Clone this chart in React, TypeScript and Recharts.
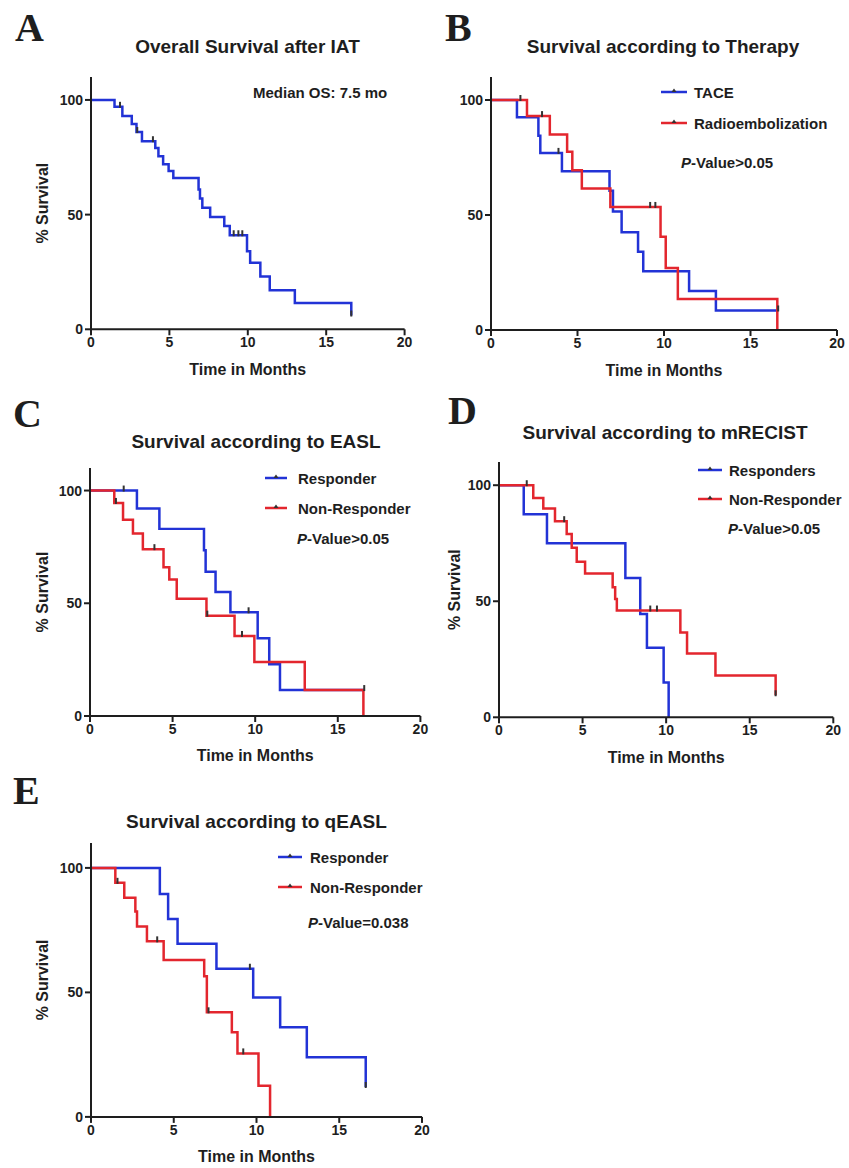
import React from "react";
import { LineChart, Line, XAxis, YAxis } from "recharts";

// A: overall survival after IAT
const osTimes = [0, 1.5, 2.0, 2.6, 2.9, 3.25, 4.1, 4.3, 4.6, 4.95, 5.25, 6.86, 6.95, 7.1, 7.6, 8.5, 8.85, 9.95, 10.15, 10.8, 11.4, 13.0, 16.6];
const osSurv = [100, 97, 93, 89.5, 86, 82, 79, 75.5, 72, 69, 66, 61, 57, 53, 49, 45, 41, 34, 29, 23, 17, 11.5, 6];
const osCensor = [1.85, 2.95, 3.95, 9.1, 9.4, 9.65, 16.6];

// B: TACE vs radioembolization
const taceTimes = [0, 1.5, 2.74, 2.85, 4.1, 6.85, 7.05, 7.55, 8.5, 8.8, 11.45, 13.0];
const taceSurv = [100, 92.5, 84.5, 77, 69, 60.5, 51.5, 42.5, 34, 25.5, 17, 8.5];
const taceCensor = [3.9, 16.6];
const radioTimes = [0, 2.08, 3.4, 4.4, 4.7, 5.25, 6.9, 9.8, 10.1, 10.8, 16.55];
const radioSurv = [100, 93, 85, 77.5, 69.5, 61.5, 53.5, 40.5, 27, 13.5, 0];
const radioCensor = [1.7, 2.95, 9.2, 9.5];

// C: EASL
const easlRespTimes = [0, 2.84, 4.2, 6.9, 7.0, 7.6, 8.5, 10.15, 10.85, 11.5];
const easlRespSurv = [100, 92, 83, 73.5, 64, 55, 46, 34.5, 23, 11.5];
const easlRespCensor = [2.04, 9.6, 16.6];
const easlNonTimes = [0, 1.47, 2.0, 2.6, 3.2, 4.45, 4.8, 5.25, 7.05, 8.75, 9.95, 13.0, 16.55];
const easlNonSurv = [100, 94.5, 87, 81, 74, 66, 60.5, 52, 44.5, 35.5, 24, 11.5, 0];
const easlNonCensor = [1.57, 3.9, 7.1, 9.2];

// D: mRECIST
const mrRespTimes = [0, 1.48, 2.87, 7.56, 8.45, 8.85, 9.85, 10.15];
const mrRespSurv = [100, 87.5, 75, 60, 44.5, 30, 15, 0];
const mrRespCensor: number[] = [];
const mrNonTimes = [0, 2.05, 2.65, 3.35, 4.05, 4.35, 4.65, 5.15, 6.8, 6.95, 7.05, 10.85, 11.25, 12.95, 16.55];
const mrNonSurv = [100, 94.5, 90, 84.5, 79, 73, 67, 62, 56, 51, 46, 36.5, 27.5, 18, 9.5];
const mrNonCensor = [1.66, 3.9, 9.05, 9.45, 16.55];

// E: qEASL
const qRespTimes = [0, 4.16, 4.66, 5.23, 7.58, 9.8, 11.43, 13.04, 16.6];
const qRespSurv = [100, 89.5, 79.5, 69.5, 59.5, 48, 36, 24, 12];
const qRespCensor = [9.6, 16.6];
const qNonTimes = [0, 1.47, 2.01, 2.68, 2.78, 3.38, 4.39, 6.84, 7.0, 8.51, 8.85, 10.12, 10.82];
const qNonSurv = [100, 94, 88, 82.5, 76.5, 70.5, 63, 56.5, 42, 34, 25.5, 12.5, 0];
const qNonCensor = [1.6, 4.0, 7.1, 9.2];

const xTicks = [0, 5, 10, 15, 20];
const yTicks = [0, 50, 100];

const BLUE = "#2233d6";
const RED = "#e3262e";
const INK = "#1e1e1e";
const SANS = "'Liberation Sans', Arial, sans-serif";

type Pt = { t: number; s: number; c: boolean };

// merge events and censored times into one step series
const km = (times: number[], surv: number[], censor: number[]): Pt[] => {
  const pts: Pt[] = times.map((t, i) => ({ t, s: surv[i], c: false }));
  censor.forEach((ct) => {
    let level = surv[0];
    times.forEach((t, i) => {
      if (t <= ct) level = surv[i];
    });
    pts.push({ t: ct, s: level, c: true });
  });
  return pts.sort((a, b) => a.t - b.t);
};

const censorDot = (props: any) => {
  const { cx, cy, payload, index } = props;
  if (!payload || !payload.c) return <g key={`n-${index}`} />;
  return (
    <line
      key={`c-${index}`}
      x1={cx}
      x2={cx}
      y1={cy - 5}
      y2={cy + 1}
      stroke="#333"
      strokeWidth={2}
    />
  );
};

type Box = { x0: number; x20: number; yTop: number; y0: number };
type Series = { name: string; data: Pt[]; color: string };

const YW = 60;
const XH = 52;
const RM = 16;
const TM = 4;

const KMPanel = ({
  box,
  series,
  yLabelOff,
}: {
  box: Box;
  series: Series[];
  yLabelOff?: number;
}) => {
  const tickStyle = { fontSize: 14, fontWeight: 700, fill: INK, fontFamily: SANS };
  const axisStyle = { stroke: INK, strokeWidth: 2 };
  return (
    <div style={{ position: "absolute", left: box.x0 - YW, top: box.yTop - TM }}>
      <LineChart
        width={box.x20 - box.x0 + YW + RM}
        height={box.y0 - box.yTop + TM + XH}
        margin={{ top: TM, right: RM, left: 0, bottom: 0 }}
      >
        <XAxis
          type="number"
          dataKey="t"
          domain={[0, 20]}
          ticks={xTicks}
          height={XH}
          axisLine={axisStyle}
          tickLine={axisStyle}
          tickSize={6}
          tick={tickStyle}
          label={(p: any) => {
            const { x, y, width } = p.viewBox;
            return (
              <text
                x={x + width / 2}
                y={y + 40}
                textAnchor="middle"
                dominantBaseline="central"
                fontSize={16}
                fontWeight={700}
                fontFamily={SANS}
                fill={INK}
              >
                Time in Months
              </text>
            );
          }}
        />
        <YAxis
          type="number"
          domain={[0, 110]}
          ticks={yTicks}
          width={YW}
          axisLine={axisStyle}
          tickLine={axisStyle}
          tickSize={6}
          tick={tickStyle}
          label={
            yLabelOff
              ? (p: any) => {
                  const { x, y, width, height } = p.viewBox;
                  const cx = x + width - yLabelOff;
                  const cy = y + height / 2;
                  return (
                    <text
                      x={cx}
                      y={cy}
                      transform={`rotate(-90 ${cx} ${cy})`}
                      textAnchor="middle"
                      dominantBaseline="central"
                      fontSize={16}
                      fontWeight={700}
                      fontFamily={SANS}
                      fill={INK}
                    >
                      % Survival
                    </text>
                  );
                }
              : undefined
          }
        />
        {series.map((s) => (
          <Line
            key={s.name}
            name={s.name}
            data={s.data}
            dataKey="s"
            type="stepAfter"
            stroke={s.color}
            strokeWidth={2.5}
            dot={censorDot}
            activeDot={false}
            isAnimationActive={false}
          />
        ))}
      </LineChart>
    </div>
  );
};

const Letter = ({ ch, left, top }: { ch: string; left: number; top: number }) => (
  <div
    style={{
      position: "absolute",
      left,
      top,
      fontFamily: "'Liberation Serif', 'Times New Roman', serif",
      fontWeight: 700,
      fontSize: 40,
      lineHeight: 1,
      color: INK,
    }}
  >
    {ch}
  </div>
);

const Title = ({ text, cx, cy }: { text: string; cx: number; cy: number }) => (
  <div
    style={{
      position: "absolute",
      left: cx,
      top: cy,
      transform: "translate(-50%, -50%)",
      whiteSpace: "nowrap",
      fontFamily: SANS,
      fontWeight: 700,
      fontSize: 19,
      color: INK,
    }}
  >
    {text}
  </div>
);

const Note = ({ left, cy, children }: { left: number; cy: number; children: React.ReactNode }) => (
  <div
    style={{
      position: "absolute",
      left,
      top: cy,
      transform: "translateY(-50%)",
      whiteSpace: "nowrap",
      fontFamily: SANS,
      fontWeight: 700,
      fontSize: 15,
      color: INK,
    }}
  >
    {children}
  </div>
);

const LegendRow = ({
  x,
  len,
  textX,
  cy,
  color,
  label,
}: {
  x: number;
  len: number;
  textX: number;
  cy: number;
  color: string;
  label: string;
}) => (
  <>
    <svg
      width={len}
      height={10}
      style={{ position: "absolute", left: x, top: cy - 5 }}
    >
      <line x1={0} x2={len} y1={5} y2={5} stroke={color} strokeWidth={2.5} />
      <path d={`M${len / 2 - 2.5} 5 L${len / 2} 1.5 L${len / 2 + 2.5} 5 Z`} fill="#333" />
    </svg>
    <Note left={textX} cy={cy}>
      {label}
    </Note>
  </>
);

const PValue = ({ left, cy, value }: { left: number; cy: number; value: string }) => (
  <Note left={left} cy={cy}>
    <i>P</i>-Value{value}
  </Note>
);

export default function App() {
  const aSeries = [{ name: "Overall", data: km(osTimes, osSurv, osCensor), color: BLUE }];
  const bSeries = [
    { name: "TACE", data: km(taceTimes, taceSurv, taceCensor), color: BLUE },
    { name: "Radioembolization", data: km(radioTimes, radioSurv, radioCensor), color: RED },
  ];
  const cSeries = [
    { name: "Responder", data: km(easlRespTimes, easlRespSurv, easlRespCensor), color: BLUE },
    { name: "Non-Responder", data: km(easlNonTimes, easlNonSurv, easlNonCensor), color: RED },
  ];
  const dSeries = [
    { name: "Responders", data: km(mrRespTimes, mrRespSurv, mrRespCensor), color: BLUE },
    { name: "Non-Responder", data: km(mrNonTimes, mrNonSurv, mrNonCensor), color: RED },
  ];
  const eSeries = [
    { name: "Responder", data: km(qRespTimes, qRespSurv, qRespCensor), color: BLUE },
    { name: "Non-Responder", data: km(qNonTimes, qNonSurv, qNonCensor), color: RED },
  ];

  return (
    <div
      style={{
        position: "absolute",
        left: 0,
        top: 0,
        width: 849,
        height: 1168,
        background: "#fff",
        overflow: "hidden",
      }}
    >
      {/* A */}
      <Letter ch="A" left={15} top={8} />
      <Title text="Overall Survival after IAT" cx={247.5} cy={47} />
      <KMPanel box={{ x0: 90.7, x20: 404.3, yTop: 77, y0: 329.3 }} series={aSeries} yLabelOff={48} />
      <Note left={253} cy={92}>
        Median OS: 7.5 mo
      </Note>

      {/* B */}
      <Letter ch="B" left={445} top={8} />
      <Title text="Survival according to Therapy" cx={663} cy={47} />
      <KMPanel box={{ x0: 490.7, x20: 836.7, yTop: 77, y0: 330 }} series={bSeries} />
      <LegendRow x={661} len={26} textX={694} cy={92} color={BLUE} label="TACE" />
      <LegendRow x={661} len={26} textX={694} cy={123} color={RED} label="Radioembolization" />
      <PValue left={681} cy={162} value=">0.05" />

      {/* C */}
      <Letter ch="C" left={13} top={394} />
      <Title text="Survival according to EASL" cx={256} cy={442} />
      <KMPanel box={{ x0: 90.3, x20: 420.7, yTop: 468, y0: 716 }} series={cSeries} yLabelOff={47} />
      <LegendRow x={265} len={22} textX={298} cy={478} color={BLUE} label="Responder" />
      <LegendRow x={265} len={22} textX={298} cy={508} color={RED} label="Non-Responder" />
      <PValue left={297} cy={538} value=">0.05" />

      {/* D */}
      <Letter ch="D" left={448} top={391} />
      <Title text="Survival according to mRECIST" cx={665} cy={433} />
      <KMPanel box={{ x0: 499, x20: 833.3, yTop: 462, y0: 717.3 }} series={dSeries} yLabelOff={44} />
      <LegendRow x={698} len={24} textX={729} cy={470} color={BLUE} label="Responders" />
      <LegendRow x={698} len={24} textX={729} cy={499} color={RED} label="Non-Responder" />
      <PValue left={728} cy={528} value=">0.05" />

      {/* E */}
      <Letter ch="E" left={13} top={771} />
      <Title text="Survival according to qEASL" cx={256.5} cy={822} />
      <KMPanel box={{ x0: 90.7, x20: 421.7, yTop: 843.4, y0: 1117.3 }} series={eSeries} yLabelOff={48} />
      <LegendRow x={278} len={24} textX={310} cy={857} color={BLUE} label="Responder" />
      <LegendRow x={278} len={24} textX={310} cy={887} color={RED} label="Non-Responder" />
      <PValue left={308} cy={922} value="=0.038" />
    </div>
  );
}
